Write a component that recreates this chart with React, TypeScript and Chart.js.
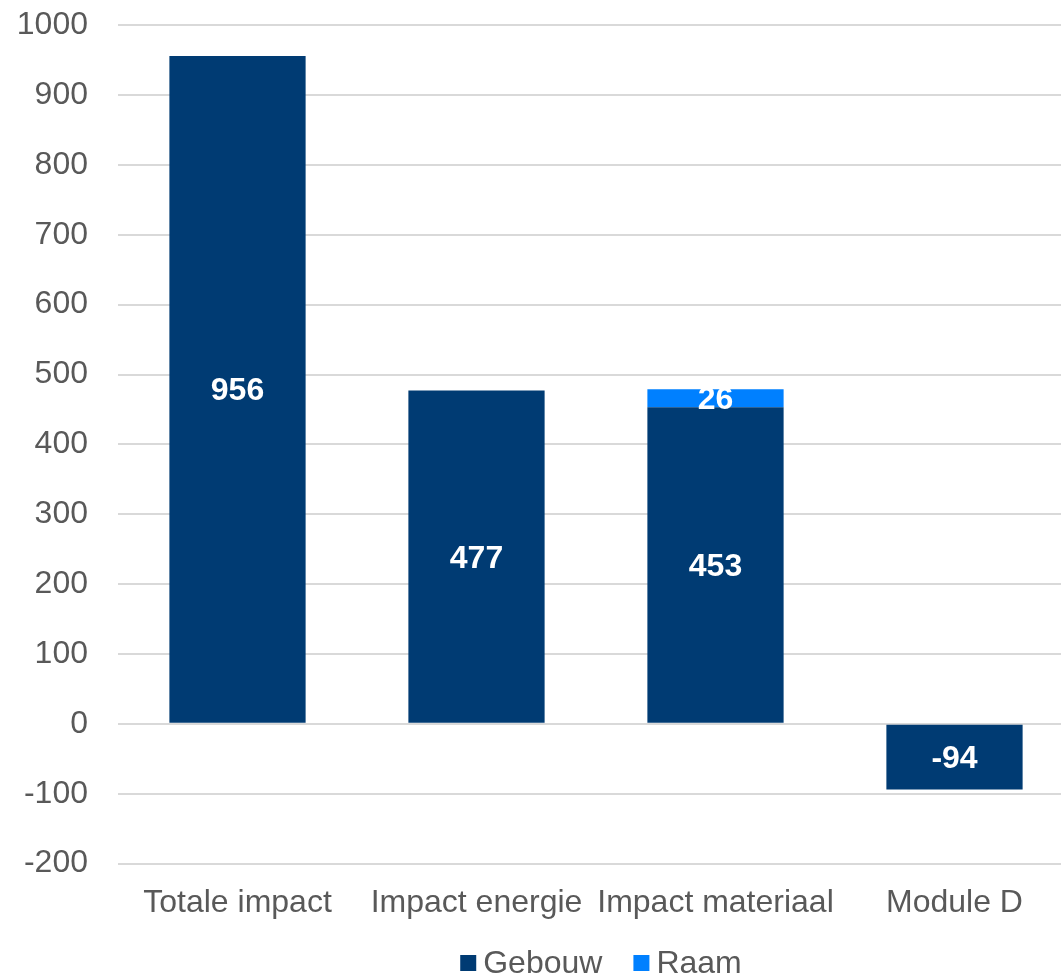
import React, { useEffect, useRef } from "react";
import { Chart, registerables } from "chart.js";

Chart.register(...registerables);

const categories = ["Totale impact", "Impact energie", "Impact materiaal", "Module D"];
const gebouwValues = [956, 477, 453, -94];
const raamValues = [0, 0, 26, 0];
const seriesNames = ["Gebouw", "Raam"];
const seriesColors = ["#003B73", "#0080FF"];
const yMin = -200;
const yMax = 1000;
const yStep = 100;

const FONT = "'Liberation Sans', Arial, sans-serif";

const labelPlugin = {
  id: "barLabels",
  afterDatasetsDraw(chart: any) {
    const ctx = chart.ctx;
    ctx.save();
    ctx.font = `bold 32px ${FONT}`;
    ctx.fillStyle = "#FFFFFF";
    ctx.textAlign = "center";
    ctx.textBaseline = "middle";
    chart.data.datasets.forEach((ds: any, di: number) => {
      const meta = chart.getDatasetMeta(di);
      meta.data.forEach((bar: any, i: number) => {
        const v = ds.data[i];
        if (!v) return;
        const y = (bar.y + bar.base) / 2;
        ctx.fillText(String(v), bar.x, y + 2);
      });
    });
    ctx.restore();
  },
};

const legendPlugin = {
  id: "bottomLegend",
  afterDraw(chart: any) {
    const ctx = chart.ctx;
    const ca = chart.chartArea;
    const box = 16;
    const textGap = 7;
    const itemGap = 31;
    ctx.save();
    ctx.font = `32px ${FONT}`;
    ctx.textBaseline = "middle";
    ctx.textAlign = "left";
    const items = chart.data.datasets.map((ds: any) => ({
      text: ds.label,
      color: ds.backgroundColor,
      w: ctx.measureText(ds.label).width,
    }));
    const total = items.reduce((s: number, it: any) => s + box + textGap + it.w, 0) + itemGap * (items.length - 1);
    let x = (ca.left + ca.right) / 2 - total / 2 + 5;
    const y = chart.scales.x.bottom + 21;
    items.forEach((it: any) => {
      ctx.fillStyle = it.color;
      ctx.fillRect(x, y - box / 2, box, box);
      x += box + textGap;
      ctx.fillStyle = "#595959";
      ctx.fillText(it.text, x, y + 1);
      x += it.w + itemGap;
    });
    ctx.restore();
  },
};

export default function App() {
  const ref = useRef<HTMLCanvasElement>(null);
  useEffect(() => {
    document.body.style.margin = "0";
    const chart: any = new Chart(ref.current!, {
      type: "bar",
      data: {
        labels: categories,
        datasets: [
          { label: seriesNames[0], data: gebouwValues, backgroundColor: seriesColors[0] },
          { label: seriesNames[1], data: raamValues, backgroundColor: seriesColors[1] },
        ],
      },
      options: {
        animation: false,
        responsive: false,
        maintainAspectRatio: false,
        layout: { padding: { left: 0, right: 0, top: 6, bottom: 35 } },
        datasets: { bar: { categoryPercentage: 1, barPercentage: 0.57 } },
        scales: {
          x: {
            stacked: true,
            grid: { display: false, drawTicks: false },
            border: { display: false },
            ticks: { color: "#595959", font: { family: FONT, size: 32 }, padding: 20, maxRotation: 0, autoSkip: false },
          },
          y: {
            stacked: true,
            min: yMin,
            max: yMax,
            afterFit: (s: any) => { s.width = 118; },
            grid: { color: "#D9D9D9", lineWidth: 2, drawTicks: false },
            border: { display: false },
            ticks: {
              stepSize: yStep,
              color: "#595959",
              font: { family: FONT, size: 32 },
              padding: 30,
              callback: (v: any) => String(v),
            },
          },
        },
        plugins: {
          tooltip: { enabled: false },
          legend: { display: false },
        },
      },
      plugins: [labelPlugin, legendPlugin],
    });
    return () => chart.destroy();
  }, []);
  return (
    <div style={{ width: 1061, height: 977, overflow: "hidden" }}>
      <canvas ref={ref} width={1074} height={1001} style={{ display: "block", marginTop: -24 }} />
    </div>
  );
}
